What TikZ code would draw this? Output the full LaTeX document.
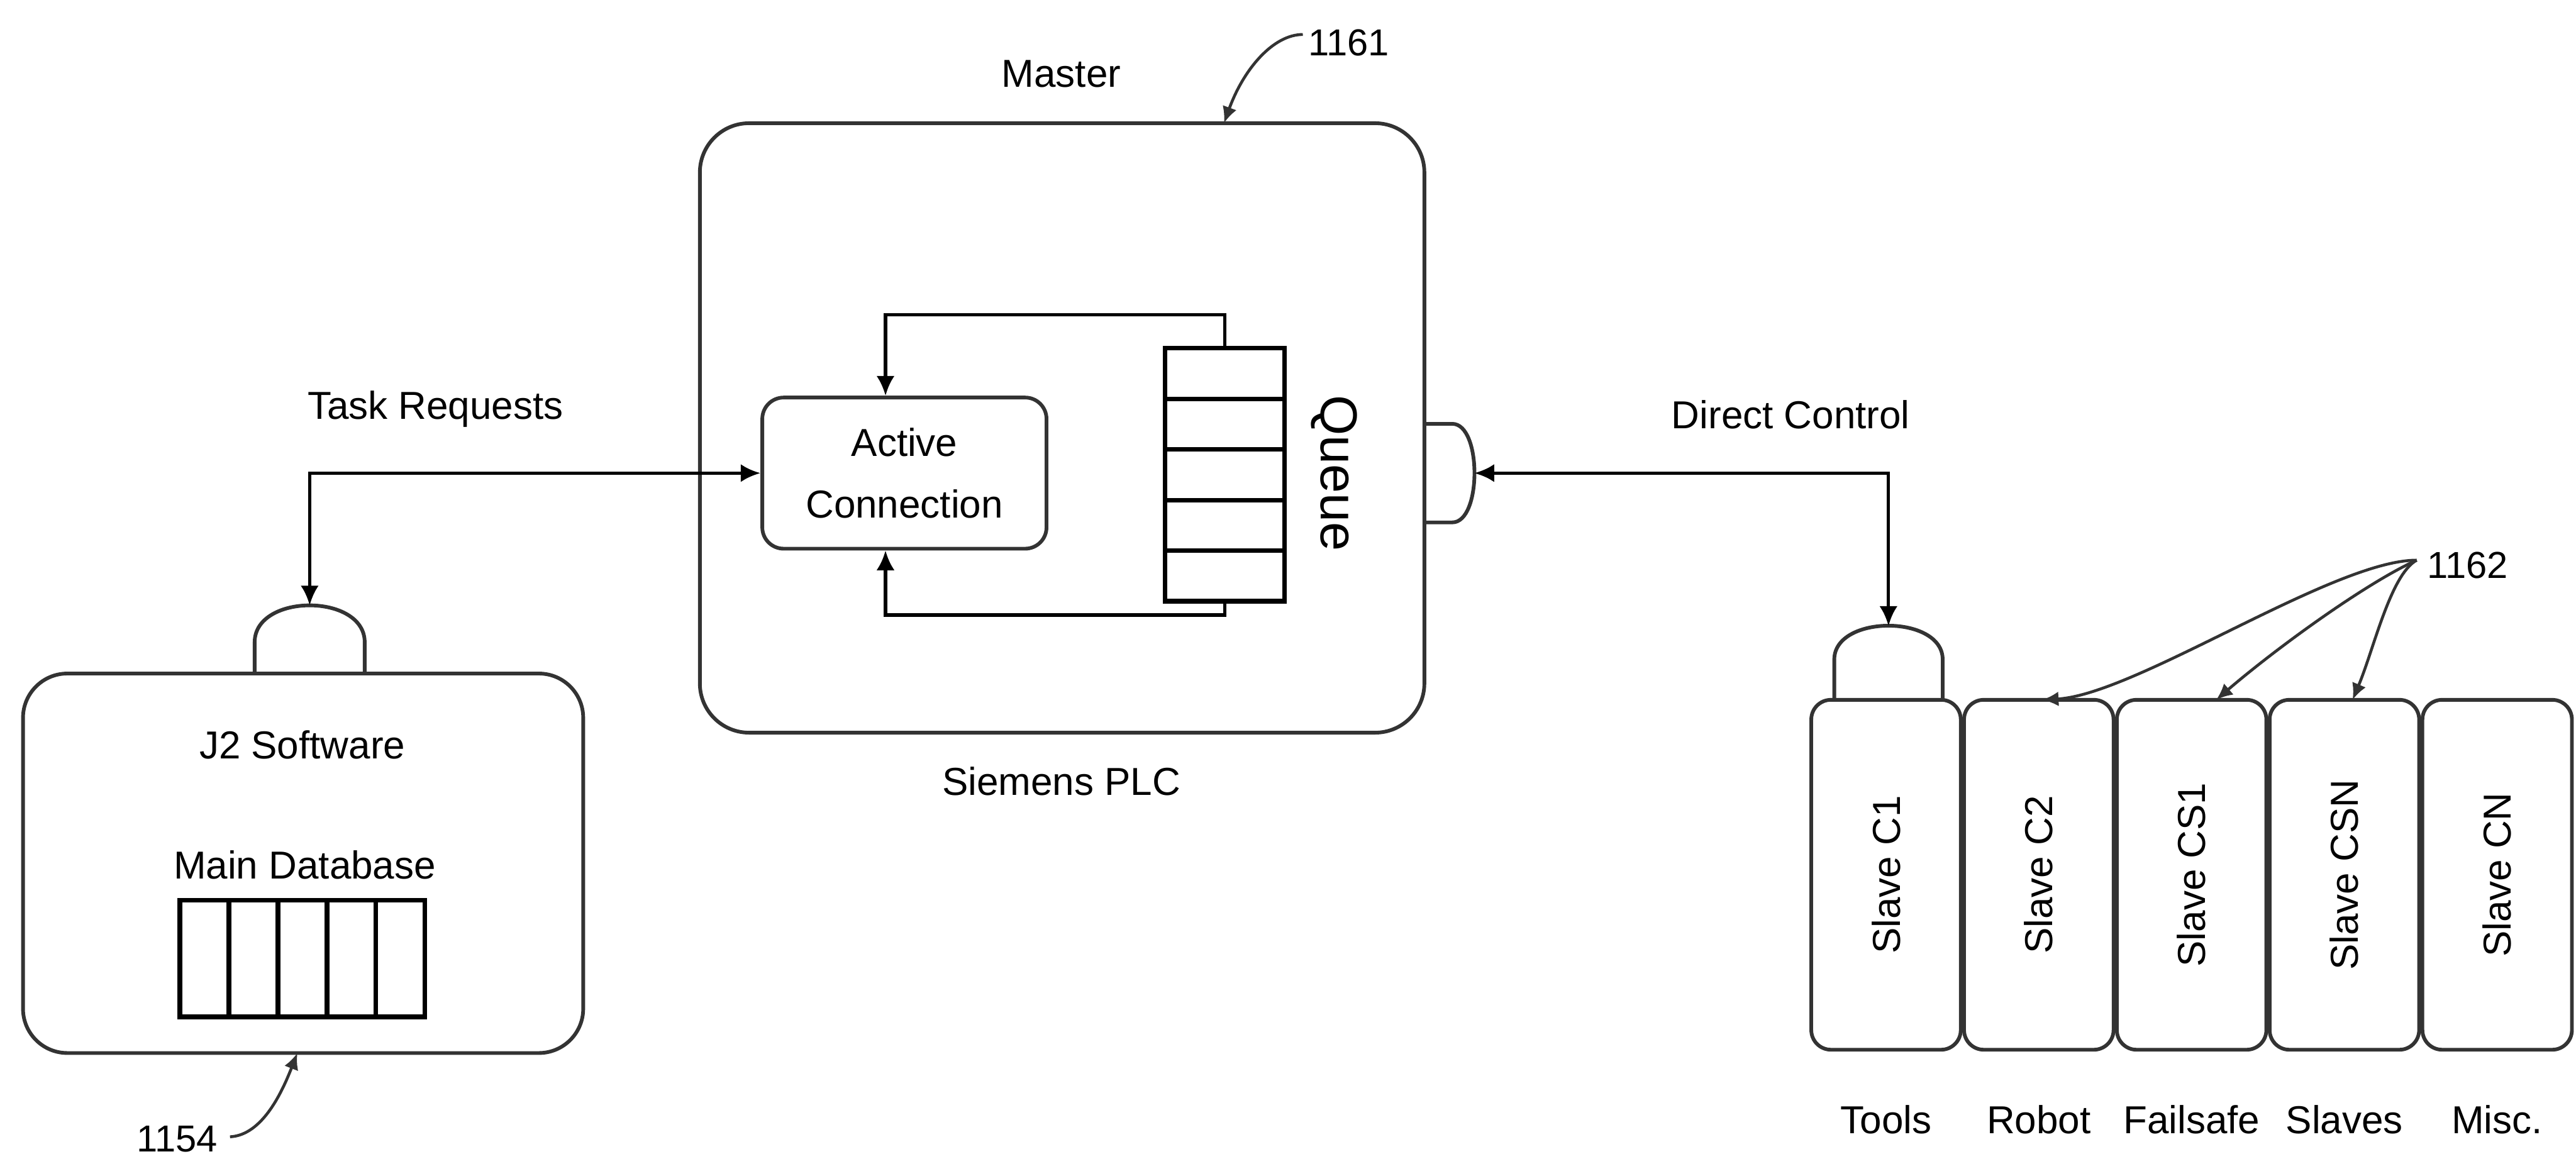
\documentclass[tikz,border=0pt]{standalone}
\usepackage{fontspec}
\setmainfont{Liberation Sans}
\usetikzlibrary{arrows.meta}
\begin{document}
\begin{tikzpicture}[x=0.2mm,y=-0.2mm,
  outline/.style={draw=black!80, line width=0.45mm},
  box/.style={outline, rounded corners=#1, inner sep=0pt},
  box/.default=2mm,
  cell/.style={draw=black, line width=0.55mm, inner sep=0pt},
  conn/.style={draw=black, line width=0.4mm},
  tip/.style={-{Latex[length=2.4mm,width=2.2mm]}},
  dtip/.style={{Latex[length=2.4mm,width=2.2mm]}-{Latex[length=2.4mm,width=2.2mm]}},
  leader/.style={draw=black!80, line width=0.35mm, -{Latex[length=2mm,width=1.8mm]}},
  lbl/.style={font=\fontsize{13.5}{21.5}\selectfont, inner sep=0pt},
  num/.style={font=\fontsize{13}{16}\selectfont, inner sep=0pt},
]
\useasboundingbox (0,0) rectangle (1568,705.5);

% main boxes
\node[box=6mm, minimum width=88.2mm, minimum height=74.2mm] (master) at (646.5,260.5) {};
\node[box=5.4mm, minimum width=68.2mm, minimum height=46.2mm] (j2) at (184.5,525.5) {};
\node[box=2.6mm, minimum width=34.6mm, minimum height=18.4mm, lbl, align=center] (ac) at (550.5,288) {Active\\Connection};

% queue
\foreach \i in {1,...,5}
  \node[cell, minimum width=14.6mm, minimum height=6.16mm] (q\i) at (745.5,{212+30.8*(\i-0.5)}) {};
\node[lbl, font=\fontsize{18}{22}\selectfont, rotate=-90] (qlabel) at (812,288) {Queue};

% database
\foreach \i in {1,...,5}
  \node[cell, minimum width=5.97mm, minimum height=14.2mm] (d\i) at ({109.5+29.84*(\i-0.5)},583.5) {};

% slaves
\foreach \i/\t/\l in {1/Slave C1/Tools, 2/Slave C2/Robot, 3/Slave CS1/Failsafe, 4/Slave CSN/Slaves, 5/Slave CN/Misc.}{
  \node[box=2.4mm, minimum width=18.2mm, minimum height=42.6mm] (s\i) at ({1148+93*(\i-1)},532.5) {};
  \node[lbl, rotate=90] (st\i) at (s\i) {\t};
  \node[lbl, anchor=base] (b\i) at ({1148+93*(\i-1)},690) {\l};
}

% connector ports
\draw[outline] (155,410) -- (155,391) .. controls (155,361) and (222,361) .. (222,391) -- (222,410);
\draw[outline] (1116.5,426) -- (1116.5,401.5) .. controls (1116.5,374) and (1182.5,374) .. (1182.5,401.5) -- (1182.5,426);
\draw[outline] (867,258) -- (884,258) .. controls (902,258) and (902,318) .. (884,318) -- (867,318);
\coordinate (j2port) at (188.5,368.5);
\coordinate (tport) at (1149.5,381);
\coordinate (mport) at (897.5,288);
\coordinate (actop) at ([xshift=-2.3mm]ac.north);
\coordinate (acbot) at ([xshift=-2.3mm]ac.south);

% connectors
\draw[conn, dtip] (ac.west) -| (j2port);
\draw[conn, dtip] (mport) -| (tport);
\draw[conn, tip] (q1.north) -- ++(0,-19) -| (actop);
\draw[conn, tip] (q5.south) -- ++(0,7) -| (acbot);

% labels
\node[lbl, anchor=base] (mlabel) at (646,53) {Master};
\node[lbl, anchor=base] (tr) at (265,255) {Task Requests};
\node[lbl, anchor=base] (dc) at (1090,261) {Direct Control};
\node[lbl, anchor=base] (plc) at (646,484) {Siemens PLC};
\node[lbl, anchor=base] (j2t) at (184,462) {J2 Software};
\node[lbl, anchor=base] (mdb) at (185.5,535) {Main Database};
\node[num, anchor=base west] (n1161) at (796,34) {1161};
\node[num, anchor=base west] (n1162) at (1477,352) {1162};
\node[num, anchor=base west] (n1154) at (83,701) {1154};

% reference leaders
\coordinate (c1161) at (793,21);
\coordinate (m1161) at (745,75);
\draw[leader] (c1161) .. controls (775,21) and (757,42) .. (m1161);
\coordinate (c1154) at (140,692);
\coordinate (j1154) at (181,641);
\draw[leader] (c1154) .. controls (160,691) and (172,664) .. (j1154);
\coordinate (c1162) at (1471,341);
\coordinate (r2) at (1243,426);
\coordinate (r3) at (1349,426);
\coordinate (r4) at (1432,426);
\draw[leader] (c1162) .. controls (1420,341) and (1300,423) .. (r2);
\draw[leader] (c1162) .. controls (1440,355) and (1385,395) .. (r3);
\draw[leader] (c1162) .. controls (1455,350) and (1445,395) .. (r4);
\end{tikzpicture}
\end{document}
